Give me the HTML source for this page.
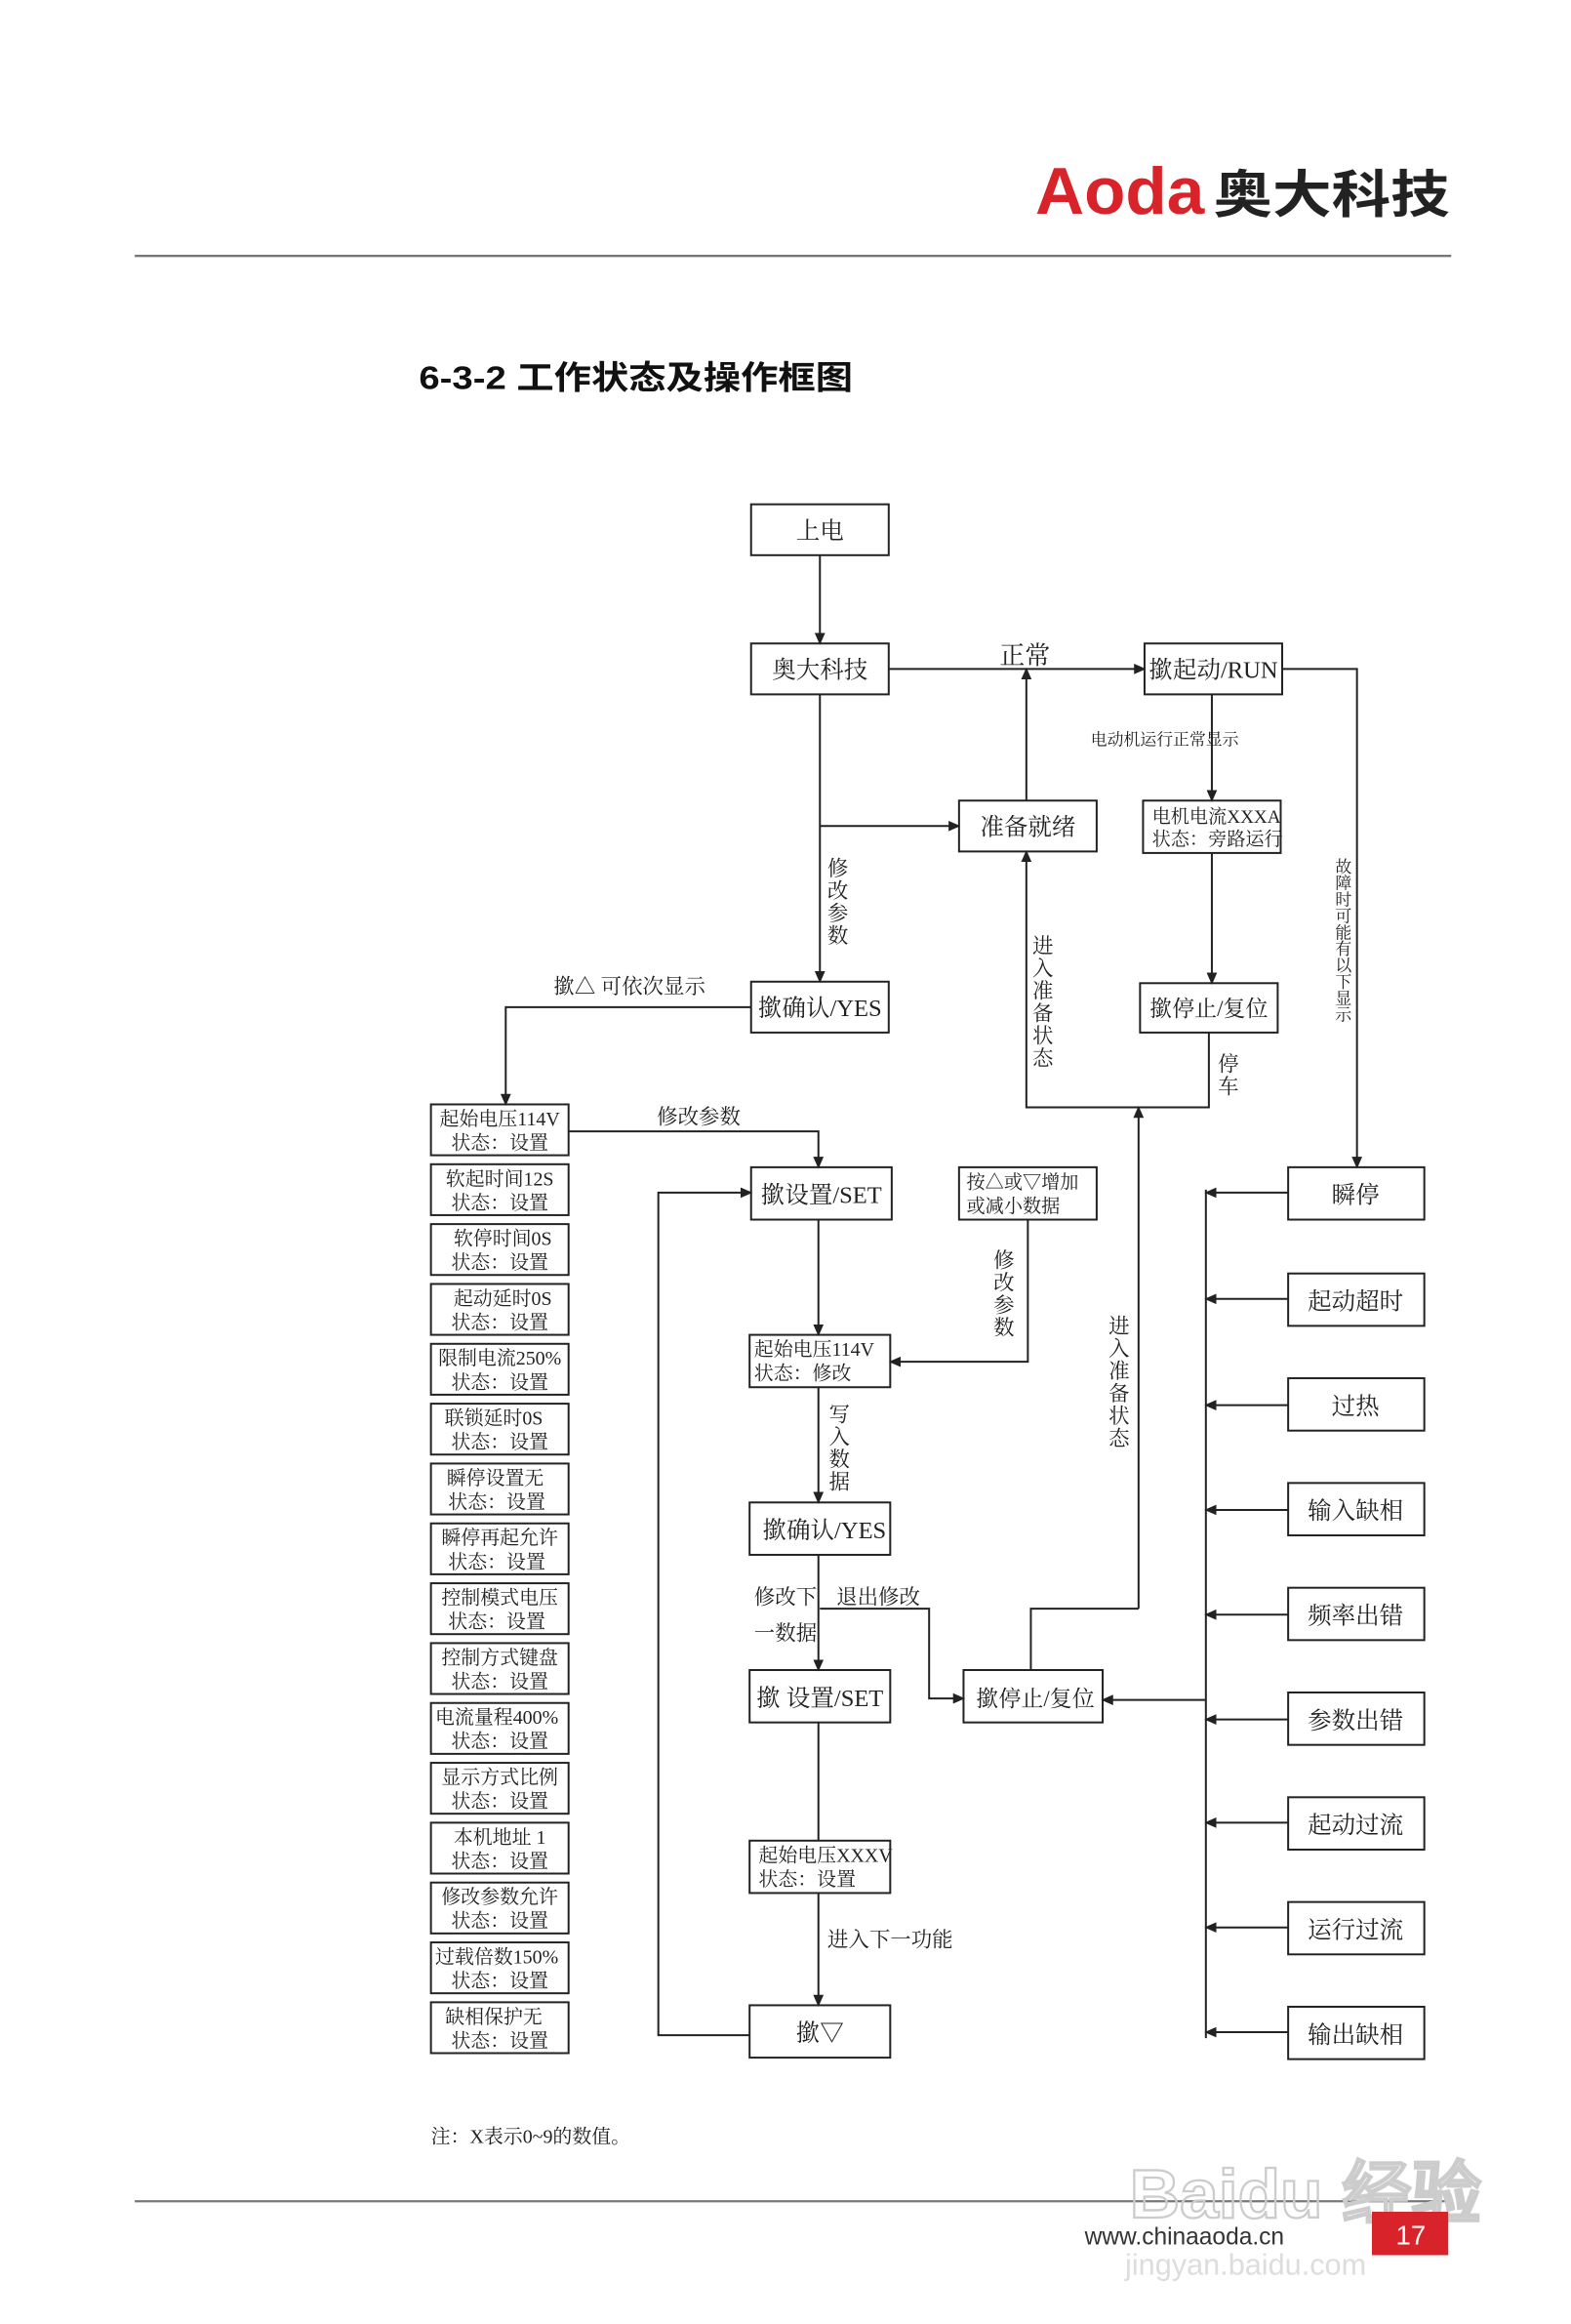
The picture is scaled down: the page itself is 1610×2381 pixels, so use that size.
<!DOCTYPE html>
<html><head><meta charset="utf-8"><style>
html,body{margin:0;padding:0;background:#fff;}
svg{display:block;}
text{font-family:"Liberation Serif","Noto Serif CJK SC",serif;fill:#222;}
.b{fill:#fff;stroke:#222;stroke-width:1.3;}
.l{stroke:#222;stroke-width:1.3;fill:none;}
</style></head><body>
<svg width="1610" height="2381" viewBox="0 0 1050 1553" xmlns="http://www.w3.org/2000/svg">
<defs><marker id="a" markerWidth="8" markerHeight="8" refX="7" refY="4" orient="auto" markerUnits="userSpaceOnUse"><path d="M0,0.5 L8,4 L0,7.5z" fill="#222"/></marker></defs>
<!-- header -->
<text x="692" y="143" textLength="113" lengthAdjust="spacingAndGlyphs" style="font-family:'Liberation Sans',sans-serif;font-weight:bold;fill:#d9232a;font-size:44px">Aoda</text>
<text x="811" y="142" textLength="158" lengthAdjust="spacingAndGlyphs" style="font-family:'Liberation Sans','Noto Sans CJK SC',sans-serif;font-weight:bold;font-size:34px;fill:#222">奥大科技</text>
<line x1="90" y1="171" x2="970" y2="171" stroke="#777" stroke-width="1.5"/>
<text x="280" y="260" textLength="290" lengthAdjust="spacingAndGlyphs" style="font-family:'Liberation Sans','Noto Sans CJK SC',sans-serif;font-weight:bold;font-size:22px;fill:#111">6-3-2 工作状态及操作框图</text>

<g font-size="16" text-anchor="middle">
<rect class="b" x="502" y="337" width="92" height="34"/><text x="548" y="360">上电</text>
<rect class="b" x="502" y="430" width="92" height="34"/><text x="548" y="453">奥大科技</text>
<rect class="b" x="765" y="430" width="92" height="34" stroke-width="2"/><text x="811" y="453">撳起动/RUN</text>
<rect class="b" x="641" y="535" width="92" height="34" stroke-width="2"/><text x="687" y="558">准备就绪</text>
<rect class="b" x="764" y="535" width="92" height="35"/>
<text x="770" y="550" font-size="12.5" text-anchor="start">电机电流XXXA</text>
<text x="770" y="565" font-size="12.5" text-anchor="start">状态：旁路运行</text>
<rect class="b" x="762" y="657" width="92" height="33" stroke-width="2"/><text x="808" y="679" font-size="15">撳停止/复位</text>
<rect class="b" x="502" y="656" width="92" height="34"/><text x="548" y="679">撳确认/YES</text>
<rect class="b" x="502" y="780" width="94" height="35"/><text x="549" y="804">撳设置/SET</text>
<rect class="b" x="641" y="780" width="92" height="35"/>
<text x="646" y="794" font-size="12.5" text-anchor="start">按△或▽增加</text>
<text x="646" y="810" font-size="12.5" text-anchor="start">或减小数据</text>
<rect class="b" x="501" y="892" width="94" height="35"/>
<text x="504" y="906" font-size="13" text-anchor="start">起始电压114V</text>
<text x="504" y="922" font-size="13" text-anchor="start">状态：修改</text>
<rect class="b" x="501" y="1004" width="94" height="35"/><text x="551" y="1028">撳确认/YES</text>
<rect class="b" x="501" y="1116" width="94" height="35"/><text x="548" y="1140">撳 设置/SET</text>
<rect class="b" x="644" y="1116" width="93" height="35"/><text x="692" y="1140" font-size="15">撳停止/复位</text>
<rect class="b" x="501" y="1230" width="94" height="35"/>
<text x="507" y="1244" font-size="13" text-anchor="start">起始电压XXXV</text>
<text x="507" y="1260" font-size="13" text-anchor="start">状态：设置</text>
<rect class="b" x="501" y="1340" width="94" height="35"/><text x="548" y="1364">撳▽</text>
</g>

<!-- left column -->
<g font-size="13" text-anchor="middle">
<rect class="b" x="288" y="738" width="92" height="34"/><text x="334" y="752">起始电压114V</text><text x="334" y="768">状态：设置</text>
<rect class="b" x="288" y="778" width="92" height="34"/><text x="334" y="792">软起时间12S</text><text x="334" y="808">状态：设置</text>
<rect class="b" x="288" y="818" width="92" height="34"/><text x="336" y="832">软停时间0S</text><text x="334" y="848">状态：设置</text>
<rect class="b" x="288" y="858" width="92" height="34"/><text x="336" y="872">起动延时0S</text><text x="334" y="888">状态：设置</text>
<rect class="b" x="288" y="898" width="92" height="34"/><text x="334" y="912">限制电流250%</text><text x="334" y="928">状态：设置</text>
<rect class="b" x="288" y="938" width="92" height="34"/><text x="330" y="952">联锁延时0S</text><text x="334" y="968">状态：设置</text>
<rect class="b" x="288" y="978" width="92" height="34"/><text x="331" y="992">瞬停设置无</text><text x="332" y="1008">状态：设置</text>
<rect class="b" x="288" y="1018" width="92" height="34"/><text x="334" y="1032">瞬停再起允许</text><text x="332" y="1048">状态：设置</text>
<rect class="b" x="288" y="1058" width="92" height="34"/><text x="334" y="1072">控制模式电压</text><text x="332" y="1088">状态：设置</text>
<rect class="b" x="288" y="1098" width="92" height="34"/><text x="334" y="1112">控制方式键盘</text><text x="334" y="1128">状态：设置</text>
<rect class="b" x="288" y="1138" width="92" height="34"/><text x="332" y="1152">电流量程400%</text><text x="334" y="1168">状态：设置</text>
<rect class="b" x="288" y="1178" width="92" height="34"/><text x="334" y="1192">显示方式比例</text><text x="334" y="1208">状态：设置</text>
<rect class="b" x="288" y="1218" width="92" height="34"/><text x="334" y="1232">本机地址 1</text><text x="334" y="1248">状态：设置</text>
<rect class="b" x="288" y="1258" width="92" height="34"/><text x="334" y="1272">修改参数允许</text><text x="334" y="1288">状态：设置</text>
<rect class="b" x="288" y="1298" width="92" height="34"/><text x="332" y="1312">过载倍数150%</text><text x="334" y="1328">状态：设置</text>
<rect class="b" x="288" y="1338" width="92" height="34"/><text x="330" y="1352">缺相保护无</text><text x="334" y="1368">状态：设置</text>
</g>

<!-- right column -->
<g font-size="16" text-anchor="middle">
<rect class="b" x="861" y="780" width="91" height="35"/><text x="906" y="804">瞬停</text>
<rect class="b" x="861" y="851" width="91" height="35"/><text x="906" y="875">起动超时</text>
<rect class="b" x="861" y="921" width="91" height="35"/><text x="906" y="945">过热</text>
<rect class="b" x="861" y="991" width="91" height="35"/><text x="906" y="1015">输入缺相</text>
<rect class="b" x="861" y="1061" width="91" height="35"/><text x="906" y="1085">频率出错</text>
<rect class="b" x="861" y="1131" width="91" height="35"/><text x="906" y="1155">参数出错</text>
<rect class="b" x="861" y="1201" width="91" height="35"/><text x="906" y="1225">起动过流</text>
<rect class="b" x="861" y="1271" width="91" height="35"/><text x="906" y="1295">运行过流</text>
<rect class="b" x="861" y="1341" width="91" height="35"/><text x="906" y="1365">输出缺相</text>
</g>

<!-- connectors -->
<g class="l">
<line x1="548" y1="371" x2="548" y2="430" marker-end="url(#a)"/>
<line x1="594" y1="447" x2="765" y2="447" marker-end="url(#a)"/>
<line x1="686" y1="535" x2="686" y2="447" marker-end="url(#a)"/>
<line x1="548" y1="464" x2="548" y2="656" marker-end="url(#a)"/>
<line x1="548" y1="552" x2="641" y2="552" marker-end="url(#a)"/>
<line x1="810" y1="464" x2="810" y2="535" marker-end="url(#a)"/>
<line x1="810" y1="570" x2="810" y2="657" marker-end="url(#a)"/>
<polyline points="808,690 808,740 686,740 686,569" marker-end="url(#a)"/>
<line x1="761" y1="1075" x2="761" y2="740" marker-end="url(#a)"/>
<polyline points="857,447 907,447 907,780" marker-end="url(#a)"/>
<polyline points="502,673 338,673 338,738" marker-end="url(#a)"/>
<polyline points="380,756 547,756 547,780" marker-end="url(#a)"/>
<polyline points="687,815 687,910 595,910" marker-end="url(#a)"/>
<line x1="547" y1="815" x2="547" y2="892" marker-end="url(#a)"/>
<line x1="547" y1="927" x2="547" y2="1004" marker-end="url(#a)"/>
<line x1="547" y1="1039" x2="547" y2="1116" marker-end="url(#a)"/>
<polyline points="548,1075 621,1075 621,1135 644,1135" marker-end="url(#a)"/>
<polyline points="689,1116 689,1075 761,1075"/>
<line x1="547" y1="1151" x2="547" y2="1230"/>
<line x1="547" y1="1265" x2="547" y2="1340" marker-end="url(#a)"/>
<polyline points="501,1360 440,1360 440,797 502,797" marker-end="url(#a)"/>
<line x1="806" y1="795" x2="806" y2="1362"/>
<line x1="806" y1="1136" x2="737" y2="1136" marker-end="url(#a)"/>
<line x1="861" y1="797" x2="806" y2="797" marker-end="url(#a)"/>
<line x1="861" y1="868" x2="806" y2="868" marker-end="url(#a)"/>
<line x1="861" y1="939" x2="806" y2="939" marker-end="url(#a)"/>
<line x1="861" y1="1009" x2="806" y2="1009" marker-end="url(#a)"/>
<line x1="861" y1="1079" x2="806" y2="1079" marker-end="url(#a)"/>
<line x1="861" y1="1149" x2="806" y2="1149" marker-end="url(#a)"/>
<line x1="861" y1="1218" x2="806" y2="1218" marker-end="url(#a)"/>
<line x1="861" y1="1288" x2="806" y2="1288" marker-end="url(#a)"/>
<line x1="861" y1="1358" x2="806" y2="1358" marker-end="url(#a)"/>
</g>

<!-- labels -->
<g font-size="14">
<text x="668" y="444" font-size="17">正常</text>
<text x="729" y="498" font-size="11">电动机运行正常显示</text>
<text x="370" y="664">撳△ 可依次显示</text>
<text x="439" y="751">修改参数</text>
<text x="504" y="1072">修改下</text>
<text x="504" y="1096">一数据</text>
<text x="559" y="1072">退出修改</text>
<text x="553" y="1301">进入下一功能</text>
</g>
<g font-size="14" text-anchor="middle">
<text x="560" y="585">修</text><text x="560" y="600">改</text><text x="560" y="615">参</text><text x="560" y="630">数</text>
<text x="697" y="637">进</text><text x="697" y="652">入</text><text x="697" y="667">准</text><text x="697" y="682">备</text><text x="697" y="697">状</text><text x="697" y="712">态</text>
<text x="821" y="716">停</text><text x="821" y="731">车</text>
<text x="748" y="891">进</text><text x="748" y="906">入</text><text x="748" y="921">准</text><text x="748" y="936">备</text><text x="748" y="951">状</text><text x="748" y="966">态</text>
<text x="671" y="847">修</text><text x="671" y="862">改</text><text x="671" y="877">参</text><text x="671" y="892">数</text>
<text x="561" y="950">写</text><text x="561" y="965">入</text><text x="561" y="980">数</text><text x="561" y="995">据</text>
</g>
<g font-size="11" text-anchor="middle">
<text x="898" y="583">故</text><text x="898" y="594">障</text><text x="898" y="605">时</text><text x="898" y="616">可</text><text x="898" y="627">能</text><text x="898" y="638">有</text><text x="898" y="649">以</text><text x="898" y="660">下</text><text x="898" y="671">显</text><text x="898" y="682">示</text>
</g>

<text x="288" y="1432" font-size="13">注：X表示0~9的数值。</text>
<line x1="90" y1="1471" x2="970" y2="1471" stroke="#777" stroke-width="1.5"/>
<text x="755" y="1482" textLength="235" lengthAdjust="spacingAndGlyphs" style="font-family:'Liberation Sans',sans-serif;font-size:46px;font-weight:bold;fill:none;stroke:#ccc;stroke-width:1.5">Baidu 经验</text>
<text x="725" y="1500" style="font-family:'Liberation Sans',sans-serif;font-size:16px;fill:#333">www.chinaaoda.cn</text>
<rect x="917" y="1478" width="51" height="29" fill="#d9232a"/>
<text x="943" y="1500" text-anchor="middle" style="font-family:'Liberation Sans',sans-serif;font-size:18px;fill:#fff">17</text>
<text x="752" y="1520" style="font-family:'Liberation Sans',sans-serif;font-size:20px;fill:#ddd">jingyan.baidu.com</text>
</svg>
</body></html>
